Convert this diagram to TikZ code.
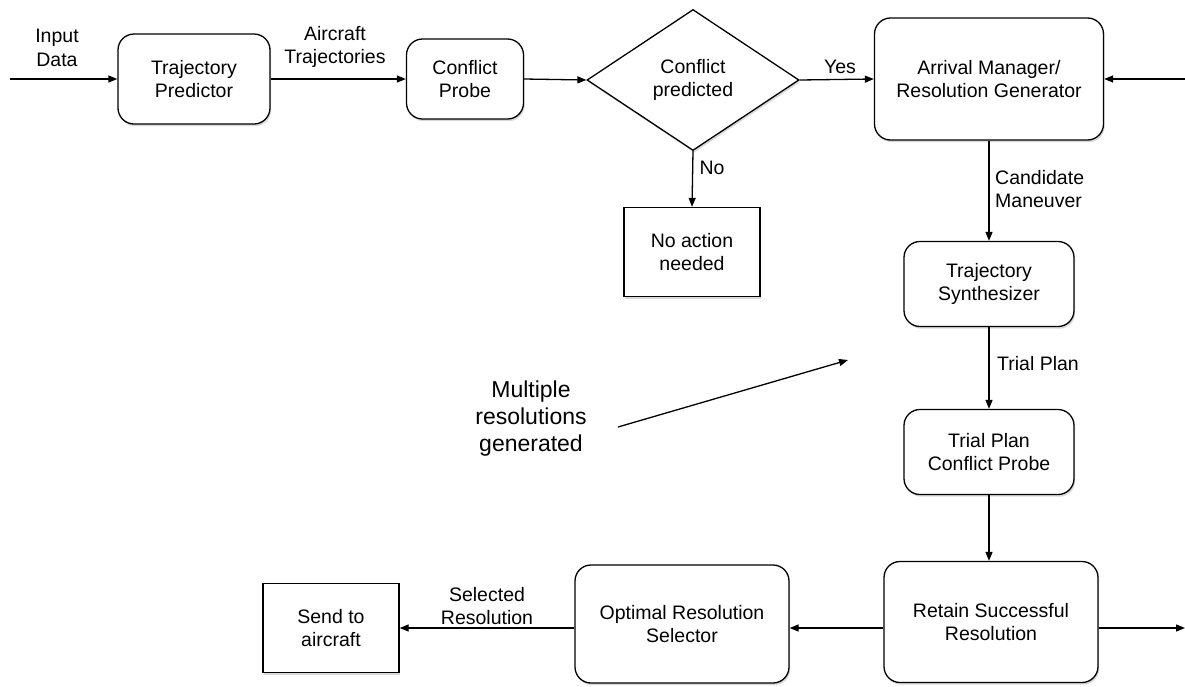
\documentclass[tikz,border=0pt]{standalone}
\usepackage{fontspec}
\setmainfont{Liberation Sans}
\usetikzlibrary{shapes.geometric,arrows.meta,shadows}
\begin{document}
\begin{tikzpicture}[x=1pt,y=-1pt,
  every node/.style={font=\fontsize{19.5}{23.5}\selectfont, align=center},
  base/.style={draw=black, line width=1.3pt, fill=white, inner sep=2pt,
    drop shadow={shadow xshift=1.2pt, shadow yshift=-2.2pt, opacity=0.25, fill=black!60}},
  rbox/.style={base, rounded corners=16pt},
  sbox/.style={base},
  dbox/.style={base, diamond, aspect=1.5, inner sep=0pt},
  lab/.style={inner sep=0pt},
  conn/.style={line width=1.3pt, -{Triangle[length=9pt,width=7pt]}}
]
\useasboundingbox (0,0) rectangle (1185,686);
% nodes
\node[rbox, minimum width=152, minimum height=90] (tp) at (194,79) {Trajectory\\Predictor};
\node[rbox, minimum width=117, minimum height=80] (cp) at (465,79) {Conflict\\Probe};
\node[dbox, minimum width=212, minimum height=141] (dia) at (693,80) {Conflict\\predicted};
\node[rbox, minimum width=229, minimum height=122] (am) at (989,79) {Arrival Manager/\\Resolution Generator};
\node[sbox, minimum width=136, minimum height=89] (na) at (692,252) {No action\\needed};
\node[rbox, minimum width=170, minimum height=85] (ts) at (989,284) {Trajectory\\Synthesizer};
\node[rbox, minimum width=170, minimum height=85] (tpcp) at (989,452) {Trial Plan\\Conflict Probe};
\node[rbox, minimum width=214, minimum height=121] (rs) at (991,622) {Retain Successful\\Resolution};
\node[rbox, minimum width=214, minimum height=118] (ors) at (682,624) {Optimal Resolution\\Selector};
\node[sbox, minimum width=136, minimum height=89] (sta) at (331,628) {Send to\\aircraft};
% free coordinates
\coordinate (inL) at (10,79);
\coordinate (inR) at (1185,79);
\coordinate (outR) at (1185,628);
\coordinate (m1) at (618,427);
\coordinate (m2) at (848,360);
% labels
\node[lab] (lInput) at (57,48) {Input\\Data};
\node[lab] (lAir) at (335,47) {Aircraft\\Trajectories};
\node[lab] (lYes) at (840,67) {Yes};
\node[lab] (lNo) at (712,168) {No};
\node[lab, anchor=west, align=left] (lCand) at (995,189) {Candidate\\Maneuver};
\node[lab, anchor=west] (lTrial) at (997,364) {Trial Plan};
\node[lab] (lSel) at (487,606) {Selected\\Resolution};
\node[lab, font=\fontsize{23}{27}\selectfont] (lMult) at (531,419) {Multiple\\resolutions\\generated};
% connectors
\draw[conn] (inL) -- (tp.west |- inL);
\draw[conn] (tp.east) -- (cp.west);
\draw[conn] (cp.east) -- (dia.west);
\draw[conn] (dia.east) -- (am.west);
\draw[conn] (inR) -- (am.east);
\draw[conn] (dia.south) -- (na.north);
\draw[conn] (am.south) -- (ts.north);
\draw[conn] (ts.south) -- (tpcp.north);
\draw[conn] (tpcp.south) -- (rs.north -| tpcp.south);
\draw[conn] (rs.west |- sta.center) -- (ors.east |- sta.center);
\draw[conn] (ors.west |- sta.center) -- (sta.east);
\draw[conn] (rs.east |- outR) -- (outR);
\draw[conn] (m1) -- (m2);
\end{tikzpicture}
\end{document}
